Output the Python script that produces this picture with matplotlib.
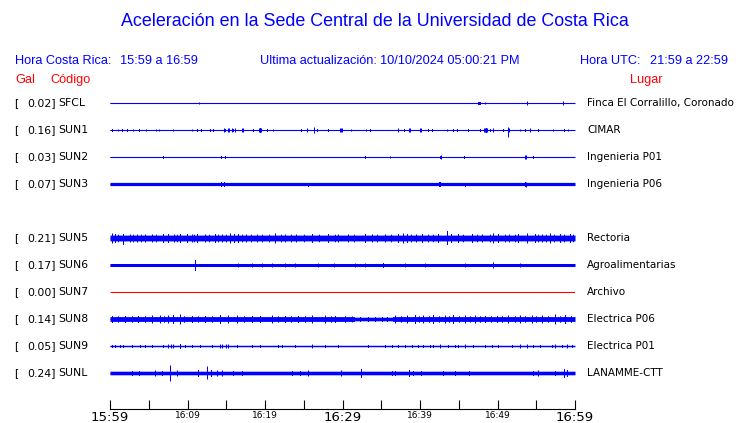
import numpy as np
import matplotlib.pyplot as plt

# station table (SUN4 has no slot filled in the reference, the row is left blank)
codes = ["SFCL", "SUN1", "SUN2", "SUN3", "SUN4", "SUN5", "SUN6", "SUN7", "SUN8", "SUN9", "SUNL"]
gal = [0.02, 0.16, 0.03, 0.07, None, 0.21, 0.17, 0.00, 0.14, 0.05, 0.24]
places = ["Finca El Corralillo, Coronado", "CIMAR", "Ingenieria P01", "Ingenieria P06", None,
          "Rectoria", "Agroalimentarias", "Archivo", "Electrica P06", "Electrica P01", "LANAMME-CTT"]

# background noise half-width of each trace (screen pixels)
base = [0.5, 0.5, 0.5, 1.6, None, 2.9, 1.5, 0.0, 2.4, 0.7, 1.8]

# bursts: (minute after 15:59, up, down)
ev_sfcl = [(11.53, 1, 1), (47.44, 1.5, 1.5), (47.6, 1.5, 1.5), (47.75, 1.5, 1.5), (48.39, 1, 1),
           (53.76, 2, 2), (58.49, 2, 2)]
ev_sun1 = [(0.21, 1.5, 1.5), (1.08, 1, 1), (1.59, 1.5, 1.5), (2.15, 1.5, 1.5), (3.01, 1, 1),
           (3.78, 1.5, 1.5), (4.60, 1, 1), (5.89, 1, 1), (6.32, 1, 1), (8.09, 1, 1), (10.62, 1, 1),
           (11.18, 1.5, 1.5), (11.74, 1.5, 1.5), (12.9, 1.5, 1.5), (13.33, 1.5, 1.5),
           (14.75, 2, 2), (14.9, 1.5, 1.5), (15.27, 2, 2), (15.4, 2, 2), (15.7, 2, 2), (15.85, 1.5, 1.5),
           (16.13, 2, 2), (17.07, 2, 2), (17.2, 2, 2), (18.49, 1.5, 1.5), (19.2, 2, 2), (19.35, 2.5, 2.5),
           (19.5, 2, 2), (20.21, 1.5, 1.5), (21.07, 1, 1), (24.6, 1.5, 1.5), (25.38, 2, 2), (26.37, 3, 3),
           (26.75, 1.5, 1.5), (28.09, 1.5, 1.5), (29.7, 2, 2), (29.81, 2, 2), (29.95, 2, 2), (31.05, 1, 1),
           (32.99, 1, 1), (33.55, 1.5, 1.5), (37.1, 2, 2), (37.2, 2, 2), (37.98, 1.5, 1.5), (38.6, 2, 2),
           (38.71, 2, 2), (40.0, 2, 2), (40.13, 2, 2), (41.07, 1.5, 1.5), (41.5, 1.5, 1.5), (43.44, 1, 1),
           (44.3, 1.5, 1.5), (44.73, 1.5, 1.5), (46.23, 1.5, 1.5), (47.74, 1.5, 1.5), (48.2, 2, 2),
           (48.39, 2, 2), (48.47, 2.5, 2.5), (48.6, 2, 2), (49.0, 1.5, 1.5), (49.46, 2, 2),
           (50.75, 1.5, 1.5), (51.3, 2, 2), (51.4, 3, 7), (51.5, 2, 2), (52.9, 1, 1), (53.55, 1.5, 1.5),
           (54.19, 2, 2), (55.27, 1.5, 1.5), (57.2, 1, 1), (58.62, 1.5, 1.5), (59.14, 1, 1)]
ev_sun2 = [(6.8, 1.5, 1.5), (14.36, 1.5, 1.5), (14.84, 1.5, 1.5), (32.95, 1.5, 1.5), (36.17, 1, 1),
           (42.58, 1.5, 1.5), (42.71, 2, 2), (45.72, 1.5, 1.5), (53.55, 2, 2), (53.63, 2, 2),
           (54.62, 1.5, 1.5)]
ev_sun3 = [(14.36, 2.5, 2.5), (14.75, 2.5, 2.5), (25.59, 1.5, 2.5), (42.49, 2.5, 2.5), (42.58, 2.5, 2.5),
           (45.81, 1.5, 2.5), (53.55, 2.5, 2.5), (53.63, 2, 3)]
ev_sun5 = [(0.21, 5, 5), (0.65, 4.5, 4.5), (1.0, 3.8, 3.8), (1.72, 4.5, 6.5), (2.58, 4, 4), (3.0, 3.8, 3.8),
           (3.5, 4, 4), (4.0, 3.8, 3.8), (4.52, 4, 4), (5.4, 4, 4), (6.0, 3.8, 3.8), (6.88, 4.5, 4.5),
           (7.53, 4.5, 4.5), (8.2, 4, 4), (8.6, 3.8, 3.8), (9.03, 4.5, 4.5), (9.89, 4.5, 4.5),
           (10.0, 3.8, 3.8), (10.54, 4, 4), (10.9, 3.8, 3.8), (11.18, 4.5, 4.5), (12.26, 4, 4),
           (12.8, 3.8, 3.8), (13.55, 4.5, 4.5), (14.0, 3.8, 3.8), (14.5, 4, 4), (15.0, 3.8, 3.8),
           (15.48, 5, 5), (16.0, 4.5, 4.5), (16.56, 4.5, 4.5), (17.0, 3.8, 3.8), (17.5, 4, 4),
           (18.2, 3.8, 3.8), (19.0, 4, 4), (19.6, 3.8, 3.8), (20.5, 3.8, 3.8), (21.28, 5, 5),
           (22.0, 3.8, 3.8), (22.58, 4, 4), (23.3, 3.8, 3.8), (24.0, 4, 4), (25.0, 3.8, 3.8),
           (26.02, 4.5, 4.5), (27.0, 3.8, 3.8), (28.17, 4.5, 4.5), (29.0, 3.8, 3.8), (29.46, 4, 4),
           (30.75, 4, 4), (31.5, 3.8, 3.8), (32.9, 4.5, 4.5), (33.76, 4, 4), (34.5, 3.8, 3.8),
           (35.48, 4, 4), (36.3, 3.8, 3.8), (37.2, 4.5, 4.5), (37.85, 5, 5), (38.28, 4.5, 4.5),
           (38.9, 3.8, 3.8), (39.5, 4, 4), (40.21, 4.5, 4.5), (41.0, 3.8, 3.8), (41.7, 3.8, 3.8),
           (42.36, 4.5, 4.5), (43.53, 7.5, 6.5), (44.0, 4.5, 4.5), (44.93, 4.5, 4.5), (45.5, 3.8, 3.8),
           (46.67, 4.5, 4.5), (47.3, 3.8, 3.8), (48.0, 4, 4), (49.0, 3.8, 3.8), (49.45, 5, 5),
           (50.11, 4.5, 4.5), (51.0, 3.8, 3.8), (51.5, 4, 4), (52.2, 3.8, 3.8), (52.69, 4.5, 4.5),
           (53.75, 5, 5), (54.83, 4.5, 4.5), (55.2, 3.8, 3.8), (55.7, 4, 4), (56.2, 3.8, 3.8),
           (56.77, 5, 5), (57.3, 3.8, 3.8), (58.06, 4.5, 4.5), (58.6, 3.8, 3.8), (59.34, 4.5, 4.5),
           (59.8, 3.8, 3.8)]
ev_sun6 = [(10.97, 5.5, 5.5), (16.56, 2, 2), (18.28, 2, 2), (19.57, 2, 2), (20.86, 2, 2), (22.58, 2, 2),
           (23.87, 2, 2), (26.88, 2, 2), (28.95, 2, 2), (31.61, 2, 2), (32.9, 2, 2), (35.27, 2.5, 2.5),
           (38.06, 2, 2), (40.64, 2, 2), (45.81, 2, 2), (49.45, 3, 3), (52.9, 2, 2)]
ev_sun8 = [(0.21, 3.5, 3.5), (1.0, 3.2, 3.2), (1.94, 3.5, 3.5), (2.8, 3.2, 3.2), (3.66, 3.5, 3.5),
           (4.5, 3.2, 3.2), (5.38, 4, 4), (6.45, 4, 4), (7.0, 3.2, 3.2), (7.53, 4, 4), (8.17, 4.5, 4.5),
           (9.03, 5, 5), (9.6, 3.2, 3.2), (10.54, 3.5, 3.5), (11.4, 3.2, 3.2), (12.26, 3.5, 3.5),
           (13.2, 3.2, 3.2), (14.19, 4.5, 4.5), (15.27, 4, 4), (16.34, 4, 4), (17.3, 3.2, 3.2),
           (18.28, 3.5, 3.5), (19.35, 3.5, 3.5), (20.86, 4, 4), (21.7, 3.2, 3.2), (22.58, 3.5, 3.5),
           (23.4, 3.2, 3.2), (24.3, 3.5, 3.5), (25.2, 3.2, 3.2), (26.02, 4, 4), (27.74, 4, 4),
           (28.5, 3.2, 3.2), (29.03, 3.5, 3.5), (30.3, 3.2, 3.2), (31.18, 3, 3), (32.2, 2.5, 2.5),
           (33.33, 2.5, 2.5), (34.2, 2.5, 2.5), (35.05, 2.5, 2.5), (35.8, 2.5, 2.5), (36.77, 4, 4),
           (37.5, 3.2, 3.2), (38.28, 4, 4), (39.35, 4.5, 4.5),
           (39.9, 3.2, 3.2), (40.43, 4, 4), (41.1, 3.2, 3.2), (41.72, 4.5, 4.5), (42.5, 3.2, 3.2),
           (43.22, 4, 4), (43.8, 3.2, 3.2), (44.3, 4.5, 4.5), (45.0, 3.2, 3.2), (45.81, 4, 4),
           (46.5, 3.2, 3.2), (47.1, 4, 4), (47.7, 3.2, 3.2), (48.39, 3.5, 3.5), (49.2, 3.2, 3.2),
           (49.89, 3.5, 3.5), (50.6, 3.2, 3.2), (51.4, 4, 4), (52.2, 3.2, 3.2), (52.9, 4, 4),
           (53.6, 3.2, 3.2), (54.41, 4, 4), (55.0, 3.2, 3.2), (55.7, 4, 4), (56.5, 3.2, 3.2),
           (57.42, 5, 5), (58.1, 3.2, 3.2), (58.71, 4.5, 4.5), (59.5, 3.2, 3.2)]
ev_sun9 = [(0.21, 1.5, 1.5), (0.65, 1.5, 1.5), (1.29, 1.5, 1.5), (1.72, 1.5, 1.5), (2.8, 1.5, 1.5),
           (3.87, 1.5, 1.5), (4.52, 1.5, 1.5), (5.38, 1.5, 1.5), (6.88, 1.5, 1.5), (7.53, 2, 2),
           (7.87, 2, 2), (8.17, 2, 2), (9.03, 2.5, 2.5), (9.68, 1.5, 1.5), (10.54, 1.5, 1.5), (11.6, 1.5, 1.5),
           (13.12, 1.5, 1.5), (14.19, 2, 2), (14.4, 2, 2), (15.0, 2, 2), (15.27, 2, 2), (16.34, 1.5, 1.5),
           (18.28, 1.5, 1.5), (19.35, 1.5, 1.5), (21.72, 1.5, 1.5), (22.15, 1.5, 1.5), (23.87, 1.5, 1.5),
           (26.02, 2, 2), (27.74, 1.5, 1.5), (29.46, 1.5, 1.5), (33.33, 1.5, 1.5), (35.48, 1.5, 1.5),
           (36.34, 1.5, 1.5), (37.2, 1.5, 1.5), (38.06, 1.5, 1.5), (38.92, 1.5, 1.5), (39.78, 1.5, 1.5),
           (40.43, 1.5, 1.5), (41.29, 1.5, 1.5), (41.72, 1.5, 1.5), (42.58, 2, 2), (43.66, 1.5, 1.5),
           (44.52, 1.5, 1.5), (44.95, 1.5, 1.5), (45.81, 2, 2), (46.88, 1.5, 1.5), (48.39, 1.5, 1.5),
           (49.25, 1.5, 1.5), (50.11, 1.5, 1.5), (51.83, 1.5, 1.5), (52.9, 2, 2), (53.76, 2, 2),
           (54.62, 1.5, 1.5), (55.48, 1.5, 1.5), (56.99, 1.5, 1.5), (57.42, 2, 2), (58.28, 1.5, 1.5),
           (58.92, 2, 2), (59.57, 1.5, 1.5)]
ev_sunl = [(2.8, 2.5, 2.5), (3.78, 2.5, 2.5), (5.81, 3, 3), (6.75, 2.5, 2.5), (7.74, 8, 8), (8.6, 3, 3),
           (11.31, 3.5, 3.5), (12.56, 7, 6), (13.03, 3.5, 3.5), (13.76, 3, 3), (14.41, 3, 3),
           (15.91, 2.5, 2.5), (16.99, 2.5, 2.5), (23.44, 2.5, 2.5), (24.52, 2.5, 2.5), (25.5, 3, 3),
           (29.81, 3, 3), (32.39, 4.5, 4.5), (36.34, 2.5, 2.5), (36.77, 2.5, 2.5), (38.62, 3.5, 3.5),
           (39.14, 2.5, 2.5), (40.13, 2.5, 2.5), (42.92, 2.5, 2.5), (44.52, 2.5, 2.5), (46.32, 2.5, 2.5),
           (54.62, 2.5, 2.5), (55.27, 3, 3), (57.42, 2.5, 2.5), (58.62, 4.5, 4.5), (58.92, 3.5, 3.5)]
events = [ev_sfcl, ev_sun1, ev_sun2, ev_sun3, None, ev_sun5, ev_sun6, [], ev_sun8, ev_sun9, ev_sunl]

# quieter stretch on SUN8: (from minute, to minute, half-width)
quiet = {"SUN8": [(31.6, 36.4, 1.8)]}

tick_minutes = list(range(0, 61, 5))
tick_labels = ["15:59", "", "16:09", "", "16:19", "", "16:29", "", "16:39", "", "16:49", "", "16:59"]
big_labels = ["15:59", "16:29", "16:59"]

W, H = 740, 423
BLUE = "#0000ff"
RED = "#ff0000"
ROW_PX = 27.0

fig = plt.figure(figsize=(W / 100, H / 100), dpi=100)

def fx(px):
    return px / W

def fy(py):
    return 1 - py / H

# trace area: x 110..575 px, rows start at y=103 px, axis line at y=409 px
top_px, bot_px = 90, 409
ax = fig.add_axes([fx(110), fy(bot_px), (575 - 110) / W, (bot_px - top_px) / H])
ax.set_xlim(0, 60)
ax.set_ylim((bot_px - 103) / ROW_PX, (top_px - 103) / ROW_PX)

t = np.linspace(0, 60, 466)
s = 1 / ROW_PX
for r, code in enumerate(codes):
    if gal[r] is None:
        continue
    color = RED if gal[r] == 0 else BLUE
    up = np.full(t.size, base[r], dtype=float)
    for a, b, h in quiet.get(code, []):
        up[(t >= a) & (t <= b)] = h
    dn = up.copy()
    for m, u, d in events[r]:
        i = int(np.argmin(np.abs(t - m)))
        up[i] = max(up[i], u)
        dn[i] = max(dn[i], d)
    ax.plot([0, 60], [r, r], color=color, lw=0.8, solid_capstyle="butt")
    ax.fill_between(t, r - up * s, r + dn * s, step="mid", color=color, lw=0, antialiased=False)

for sp in ["top", "right", "left"]:
    ax.spines[sp].set_visible(False)
ax.spines["bottom"].set_linewidth(0.8)
ax.set_yticks([])
ax.set_xticks(tick_minutes)
ax.set_xticklabels(tick_labels)
ax.tick_params(axis="x", direction="in", length=6.5, width=0.8, pad=1.5, labelsize=6.5)
for lab in ax.get_xticklabels():
    if lab.get_text() in big_labels:
        lab.set_fontsize(9.5)

# header texts
fig.text(fx(375), fy(22), "Aceleración en la Sede Central de la Universidad de Costa Rica",
         ha="center", va="center", color=BLUE, fontsize=12.9, family="Liberation Sans")
hdr = dict(va="center", color=BLUE, fontsize=9.2, family="Liberation Sans")
fig.text(fx(15), fy(61), "Hora Costa Rica:", **hdr)
fig.text(fx(120), fy(61), "15:59 a 16:59", **hdr)
fig.text(fx(260), fy(61), "Ultima actualización:", **hdr)
fig.text(fx(380), fy(61), "10/10/2024 05:00:21 PM", **hdr)
fig.text(fx(580), fy(61), "Hora UTC:", **hdr)
fig.text(fx(650), fy(61), "21:59 a 22:59", **hdr)
red = dict(va="center", color=RED, fontsize=9.2, family="Liberation Sans")
fig.text(fx(15), fy(80), "Gal", **red)
fig.text(fx(50), fy(80), "Código", **red)
fig.text(fx(630), fy(80), "Lugar", **red)

lbl = dict(va="center", color="black", fontsize=7.8)
for r, code in enumerate(codes):
    if gal[r] is None:
        continue
    y = fy(103 + ROW_PX * r)
    fig.text(fx(14), y, "[", **lbl)
    fig.text(fx(27), y, "%.2f]" % gal[r], **lbl)
    fig.text(fx(58), y, code, **lbl)
    fig.text(fx(587), y, places[r], fontsize=7.5, va="center", color="black")

fig.savefig("out.png", dpi=100)
